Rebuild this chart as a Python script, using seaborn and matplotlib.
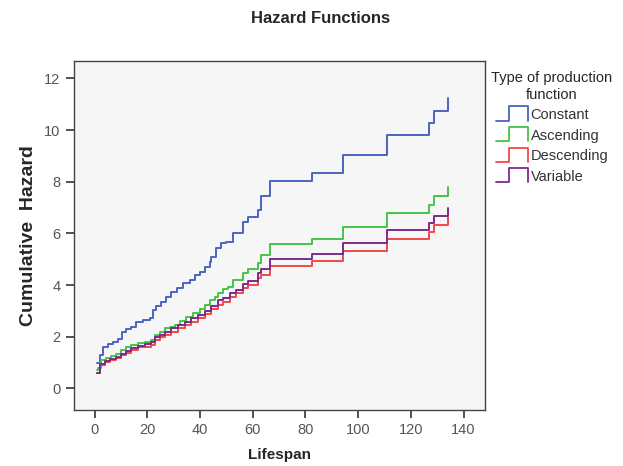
import numpy as np
import pandas as pd
import seaborn as sns
import matplotlib
matplotlib.use("Agg")
import matplotlib.pyplot as plt
from matplotlib.lines import Line2D
from matplotlib.legend_handler import HandlerBase

# cumulative hazard (step function, value changes at each time)
const_time = [0.96, 1.97, 3.24, 5.13, 7.03, 8.93, 10.45, 12.09, 13.99, 15.88, 18.41, 20.94,
              22.2, 23.47, 25.37, 27.26, 29.16, 31.31, 33.59, 36.12, 38.01, 39.91, 41.81,
              43.70, 44.34, 46.23, 48.13, 50.03, 52.55, 56.35, 58.24, 62.04, 63.3, 66.5,
              82.3, 94.3, 111.0, 126.9, 128.9, 134.1]
const_haz = [0.97, 1.29, 1.59, 1.72, 1.81, 1.93, 2.19, 2.28, 2.39, 2.58, 2.64, 2.73,
             3.03, 3.19, 3.35, 3.52, 3.74, 3.90, 4.06, 4.19, 4.39, 4.52, 4.71,
             4.90, 5.10, 5.42, 5.61, 5.68, 6.00, 6.43, 6.64, 6.90, 7.44, 8.04,
             8.35, 9.03, 9.82, 10.26, 10.74, 11.25]

asc_time = [0.96, 1.34, 2.61, 4.50, 6.40, 8.30, 10.19, 12.09, 13.99, 16.51, 19.04, 21.57,
            22.84, 24.73, 26.63, 28.53, 30.42, 32.32, 34.85, 37.38, 39.91, 41.81, 43.70,
            45.60, 46.86, 48.76, 50.66, 52.55, 56.35, 58.24, 62.04, 63.3, 66.5,
            82.3, 94.3, 111.0, 126.9, 128.9, 134.1]
asc_haz = [0.72, 0.77, 1.10, 1.19, 1.25, 1.33, 1.48, 1.59, 1.68, 1.77, 1.81, 1.87,
           2.06, 2.19, 2.32, 2.39, 2.45, 2.62, 2.77, 2.90, 3.06, 3.22, 3.42,
           3.55, 3.68, 3.83, 3.93, 4.19, 4.45, 4.61, 4.84, 5.16, 5.57,
           5.78, 6.26, 6.80, 7.11, 7.44, 7.78]

desc_time = [0.96, 1.97, 3.87, 5.77, 8.30, 10.19, 12.09, 13.99, 16.51, 19.04, 21.57,
             22.84, 24.73, 26.63, 29.16, 31.69, 34.22, 36.75, 39.28, 41.81, 44.34,
             46.86, 48.76, 51.29, 53.82, 56.35, 58.24, 62.04, 63.3, 66.5,
             82.3, 94.3, 111.0, 126.9, 128.9, 134.1]
desc_haz = [0.58, 0.90, 1.03, 1.10, 1.16, 1.29, 1.38, 1.48, 1.59, 1.61, 1.68,
            1.87, 1.97, 2.06, 2.19, 2.32, 2.45, 2.58, 2.71, 2.88, 3.06,
            3.22, 3.35, 3.52, 3.68, 3.87, 4.00, 4.26, 4.39, 4.73,
            4.93, 5.32, 5.78, 6.05, 6.33, 6.64]

var_time = desc_time
var_haz = [0.61, 0.94, 1.07, 1.13, 1.22, 1.35, 1.46, 1.55, 1.64, 1.72, 1.81,
           2.00, 2.06, 2.19, 2.32, 2.45, 2.58, 2.71, 2.84, 3.01, 3.20,
           3.42, 3.51, 3.68, 3.81, 4.04, 4.17, 4.45, 4.64, 5.00,
           5.20, 5.61, 6.12, 6.39, 6.68, 7.00]

groups = ["Constant", "Ascending", "Descending", "Variable"]
colors = ["#4a63c2", "#45c44a", "#f24848", "#7d2a8c"]

df = pd.concat([
    pd.DataFrame({"Lifespan": const_time, "hazard": const_haz, "type": "Constant"}),
    pd.DataFrame({"Lifespan": asc_time, "hazard": asc_haz, "type": "Ascending"}),
    pd.DataFrame({"Lifespan": desc_time, "hazard": desc_haz, "type": "Descending"}),
    pd.DataFrame({"Lifespan": var_time, "hazard": var_haz, "type": "Variable"}),
])

sns.set_style("ticks")
plt.rcParams["font.family"] = ["Liberation Sans", "DejaVu Sans"]


class StepHandler(HandlerBase):
    # little step glyph like the original legend
    def create_artists(self, legend, orig_handle, xdescent, ydescent, width, height, fontsize, trans):
        xs = np.array([0, 0.42, 0.42, 1.0, 1.0]) * width - xdescent
        ys = np.array([-0.15, -0.15, 1.25, 1.25, -0.15]) * height - ydescent
        ln = Line2D(xs, ys, color=orig_handle.get_color(), lw=1.3, transform=trans)
        return [ln]


fig = plt.figure(figsize=(6.23, 4.66), dpi=100)
ax = fig.add_axes([0.118, 0.120, 0.660, 0.749])
ax.set_facecolor("#f6f6f6")

sns.lineplot(data=df, x="Lifespan", y="hazard", hue="type", hue_order=groups,
             palette=colors, drawstyle="steps-post", estimator=None, lw=1.4, ax=ax)

ax.set_xlim(-8, 148)
ax.set_ylim(-0.84, 12.67)
ax.set_xticks(range(0, 141, 20))
ax.set_yticks(range(0, 13, 2))
ax.tick_params(axis="both", direction="out", length=6, width=1.2, color="#333333",
               labelcolor="#555555", labelsize=10.5)
for s in ax.spines.values():
    s.set_color("#444444")
    s.set_linewidth(1.0)

ax.set_xlabel("Lifespan", fontsize=11, fontweight="bold", labelpad=8)
ax.set_ylabel("")
fig.text(0.045, 0.495, "Cumulative  Hazard", rotation=90, ha="center", va="center",
         fontsize=14, fontweight="bold")
fig.text(0.514, 0.961, "Hazard Functions", ha="center", va="center",
         fontsize=12, fontweight="bold")

handles, labels = ax.get_legend_handles_labels()
ax.legend_.remove()
leg = fig.legend(handles, labels, title="Type of production\nfunction",
                 loc="upper center", bbox_to_anchor=(0.886, 0.875), frameon=False,
                 fontsize=10.5, title_fontsize=10.5, handler_map={Line2D: StepHandler()},
                 handlelength=2.2, handletextpad=0.2, labelspacing=0.45)
leg.get_title().set_multialignment("center")
for t in leg.get_texts():
    t.set_color("#333333")

fig.savefig("out.png", dpi=100)
